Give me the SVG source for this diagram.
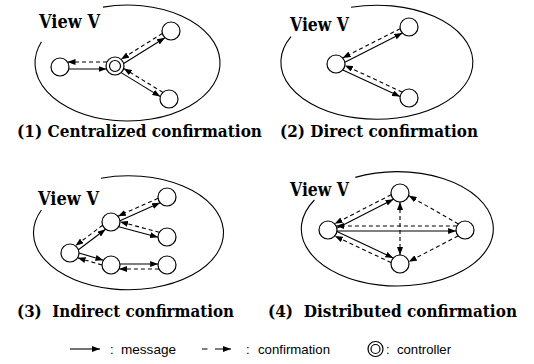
<svg xmlns="http://www.w3.org/2000/svg" width="534" height="364" viewBox="0 0 534 364">
  <style>
    .view { fill: none; stroke: #000; stroke-width: 1.1; }
    .node { fill: #fff; stroke: #000; stroke-width: 1.2; }
    .msg { fill: none; stroke: #000; stroke-width: 1.1; marker-end: url(#ah); }
    .conf { fill: none; stroke: #000; stroke-width: 1.1; stroke-dasharray: 4 3; marker-end: url(#ah); }
    .both { marker-start: url(#ah); }
    .vlabel { font-family: "DejaVu Serif", serif; font-weight: bold; font-size: 18px; fill: #000; }
    .caption { font-family: "DejaVu Serif", serif; font-weight: bold; font-size: 16px; fill: #000; }
    .legend { font-family: "Liberation Sans", Arial, sans-serif; font-size: 13px; fill: #000; }
  </style>
  <defs>
    <marker id="ah" viewBox="0 0 8 6" refX="8" refY="3" markerWidth="8" markerHeight="6" markerUnits="userSpaceOnUse" orient="auto-start-reverse">
      <path d="M0,0 L8,3 L0,6 z" fill="#000"/>
    </marker>
  </defs>
  <rect width="534" height="364" fill="#fff"/>

  <!-- (1) Centralized confirmation -->
  <g id="panel1">
    <path class="view" d="M103,7.1 A92.5,58 0 1,1 41.5,41.7"/>
    <text class="vlabel" x="39" y="28" textLength="61" lengthAdjust="spacingAndGlyphs">View V</text>
    <text class="caption" x="17" y="137" textLength="245" lengthAdjust="spacingAndGlyphs">(1) Centralized confirmation</text>
  </g>
  <g id="p1-left"><circle class="node" cx="60" cy="67" r="9"/></g>
  <g id="p1-controller"><circle class="node" cx="115" cy="66" r="9"/><circle class="node" cx="115" cy="66" r="5.5"/></g>
  <g id="p1-top"><circle class="node" cx="171" cy="31" r="9"/></g>
  <g id="p1-bottom"><circle class="node" cx="169" cy="99" r="9"/></g>

  <!-- (2) Direct confirmation -->
  <g id="panel2">
    <path class="view" d="M351,7.3 A96,57 0 1,1 291,36.7"/>
    <text class="vlabel" x="290" y="31" textLength="59" lengthAdjust="spacingAndGlyphs">View V</text>
    <text class="caption" x="280" y="137" textLength="198" lengthAdjust="spacingAndGlyphs">(2) Direct confirmation</text>
  </g>
  <g id="p2-left"><circle class="node" cx="336" cy="64" r="9"/></g>
  <g id="p2-top"><circle class="node" cx="409" cy="27" r="9"/></g>
  <g id="p2-bottom"><circle class="node" cx="409" cy="98" r="9"/></g>

  <!-- (3) Indirect confirmation -->
  <g id="panel3">
    <path class="view" d="M101,178.2 A95,57 0 1,1 41.4,210"/>
    <text class="vlabel" x="38" y="205" textLength="61" lengthAdjust="spacingAndGlyphs">View V</text>
    <text class="caption" x="17" y="317" xml:space="preserve" textLength="217" lengthAdjust="spacingAndGlyphs">(3)  Indirect confirmation</text>
  </g>
  <g id="p3-a"><circle class="node" cx="70" cy="253" r="9"/></g>
  <g id="p3-b"><circle class="node" cx="111" cy="222" r="9"/></g>
  <g id="p3-c"><circle class="node" cx="167" cy="197" r="9"/></g>
  <g id="p3-d"><circle class="node" cx="167" cy="237" r="9"/></g>
  <g id="p3-e"><circle class="node" cx="111" cy="265" r="9"/></g>
  <g id="p3-f"><circle class="node" cx="167" cy="265" r="9"/></g>

  <!-- (4) Distributed confirmation -->
  <g id="panel4">
    <path class="view" d="M355.3,177.4 A96,57.2 0 1,1 314.4,200"/>
    <text class="vlabel" x="290" y="196" textLength="59" lengthAdjust="spacingAndGlyphs">View V</text>
    <text class="caption" x="268" y="317" xml:space="preserve" textLength="249" lengthAdjust="spacingAndGlyphs">(4)  Distributed confirmation</text>
  </g>
  <g id="p4-left"><circle class="node" cx="328" cy="230" r="9"/></g>
  <g id="p4-top"><circle class="node" cx="400" cy="193" r="9"/></g>
  <g id="p4-right"><circle class="node" cx="465" cy="230" r="9"/></g>
  <g id="p4-bottom"><circle class="node" cx="400" cy="264" r="9"/></g>

  <!-- connectors: solid = message, dashed = confirmation -->
  <g id="connectors">
    <!-- panel 1 -->
    <line class="msg" x1="69" y1="69" x2="106.5" y2="69"/>
    <line class="conf" x1="107" y1="62" x2="67.5" y2="62"/>
    <line class="msg" x1="123.7" y1="63.5" x2="165" y2="37.7"/>
    <line class="conf" x1="162.3" y1="33.5" x2="121" y2="59.3"/>
    <line class="msg" x1="121.1" y1="72.6" x2="160.3" y2="96.6"/>
    <line class="conf" x1="162.9" y1="92.4" x2="123.7" y2="68.4"/>
    <!-- panel 2 -->
    <line class="msg" x1="344.9" y1="62.3" x2="402.4" y2="33.1"/>
    <line class="conf" x1="400.2" y1="28.7" x2="342.6" y2="57.9"/>
    <line class="msg" x1="342.8" y1="69.9" x2="400.1" y2="96.6"/>
    <line class="conf" x1="402.2" y1="92.1" x2="344.9" y2="65.4"/>
    <!-- panel 3 -->
    <line class="msg" x1="78.4" y1="249.8" x2="105.6" y2="229.2"/>
    <line class="conf" x1="102.6" y1="225.2" x2="75.4" y2="245.8"/>
    <line class="msg" x1="119.9" y1="220.8" x2="160.1" y2="202.8"/>
    <line class="conf" x1="158.1" y1="198.3" x2="117.9" y2="216.2"/>
    <line class="msg" x1="118.7" y1="226.7" x2="158" y2="237.2"/>
    <line class="conf" x1="159.3" y1="232.3" x2="120" y2="221.8"/>
    <line class="msg" x1="79" y1="253" x2="103.4" y2="260.2"/>
    <line class="conf" x1="102" y1="265" x2="77.6" y2="257.8"/>
    <line class="msg" x1="119.9" y1="264" x2="158.1" y2="264"/>
    <line class="conf" x1="158.9" y1="269" x2="119.1" y2="269"/>
    <!-- panel 4 -->
    <line class="msg" x1="336.8" y1="228.3" x2="393.5" y2="199.2"/>
    <line class="conf" x1="391.2" y1="194.7" x2="334.6" y2="223.8"/>
    <line class="msg" x1="337" y1="231" x2="456.1" y2="231"/>
    <line class="conf" x1="456.9" y1="226" x2="336.1" y2="226"/>
    <line class="msg" x1="336.9" y1="231.4" x2="393.3" y2="258"/>
    <line class="conf" x1="391.1" y1="262.6" x2="334.8" y2="236"/>
    <line class="conf both" x1="400" y1="202" x2="400" y2="255"/>
    <line class="conf" x1="458.4" y1="223.9" x2="408.6" y2="195.6"/>
    <line class="conf" x1="458.2" y1="235.8" x2="408.7" y2="261.7"/>
  </g>

  <!-- legend -->
  <g id="legend">
    <line class="msg" x1="70" y1="349" x2="100" y2="349"/>
    <text class="legend" x="110" y="353.5">:</text>
    <text class="legend" x="121" y="353.5" textLength="55" lengthAdjust="spacingAndGlyphs">message</text>
    <line class="conf" x1="202" y1="349" x2="231" y2="349" style="stroke-dasharray: 5.5 7.5 20"/>
    <text class="legend" x="246" y="353.5">:</text>
    <text class="legend" x="258" y="353.5" textLength="72" lengthAdjust="spacingAndGlyphs">confirmation</text>
    <circle class="node" cx="375.5" cy="349" r="7.5"/>
    <circle class="node" cx="375.5" cy="349" r="4.5"/>
    <text class="legend" x="386" y="353.5">:</text>
    <text class="legend" x="397" y="353.5" textLength="54" lengthAdjust="spacingAndGlyphs">controller</text>
  </g>
</svg>
